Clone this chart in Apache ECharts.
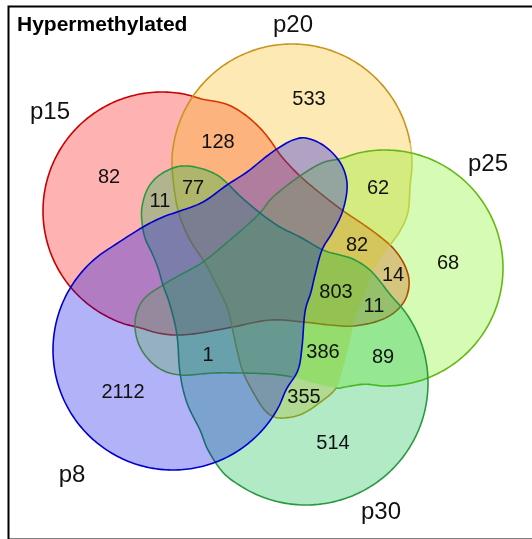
<!DOCTYPE html>
<html>
<head>
<meta charset="utf-8">
<script src="https://cdn.jsdelivr.net/npm/echarts@6/dist/echarts.min.js"></script>
<style>
  html, body { margin: 0; padding: 0; background: #ffffff; }
  #chart { width: 532px; height: 539px; }
</style>
</head>
<body>
<div id="chart"></div>
<script>
// ---- Sets and region counts --------------------------------------------
const setNames = ['p15', 'p20', 'p25', 'p30', 'p8'];

// Which sets each labelled region belongs to
const regionSets = [
  'p15', 'p20', 'p25', 'p30', 'p8',
  'p15&p20', 'p15&p20&p30', 'p15&p30', 'p20&p25', 'p15&p20&p25',
  'p15&p25', 'p15&p20&p25&p30', 'p15&p25&p30', 'p25&p30', 'p20&p25&p30',
  'p20&p30', 'p8&p25&p30'
];
const regionCounts = [
  82, 533, 68, 514, 2112,
  128, 77, 11, 62, 82,
  14, 803, 11, 89, 386,
  355, 1
];

// ---- Layout (diagram units = pixels of the 532 x 539 canvas) -------------
const setLabelAt = [[50, 112], [293, 25], [488, 164], [381, 512], [72, 475]];
const regionLabelAt = [
  [109, 177], [309, 99], [448, 263], [333, 443], [123, 392],
  [218, 142], [193, 188], [160, 201], [378, 188], [357, 245],
  [393, 275], [336, 292], [374, 306], [383, 357], [323, 352],
  [304, 397], [208, 355]
];

const setFill = ['#ff0000', '#f8b608', '#76f208', '#00b941', '#0000e8'];
const setStroke = ['#c80000', '#c8961e', '#66b814', '#2a9a40', '#0000cc'];
const fillAlpha = 0.3;

// Each set outline: a circular body (centre, radius, arc span in degrees,
// clockwise on screen) followed by a lobe reaching across the centre.
const setBody = [
  { c: [162, 211], r: 119, from: 100, to: 290 },
  { c: [292, 164], r: 120, from: 180, to: 370 },
  { c: [385, 268], r: 118, from: 248, to: 460 },
  { c: [306, 383], r: 122, from: -46, to: 133 },
  { c: [173, 350], r: 120, from: 19, to: 240 }
];
const setLobe = [
  [[226, 104], [244, 114], [259, 127], [270, 140], [282, 157], [300, 176], [320, 193],
   [342, 210], [367, 227], [390, 245], [403, 262], [409, 280], [406, 298], [395, 312],
   [378, 321], [353, 326], [330, 325], [303, 322], [270, 320], [233, 327], [200, 333],
   [177, 335], [158, 333]],
  [[408, 212], [400, 231], [390, 245], [378, 262], [368, 285], [360, 305], [354, 323],
   [349, 345], [343, 368], [336, 388], [322, 401], [302, 414], [283, 418], [272, 416],
   [263, 408], [253, 392], [243, 372], [237, 350], [232, 327], [227, 307], [214, 280],
   [205, 263], [190, 240], [180, 217], [175, 195]],
  [[345, 387], [336, 388], [310, 382], [292, 377], [270, 374], [240, 373], [213, 373],
   [180, 375], [157, 367], [140, 347], [135, 322], [143, 300], [163, 285], [180, 275],
   [203, 262], [230, 240], [258, 215], [273, 197], [300, 176], [322, 163]],
  [[208, 450], [200, 430], [187, 403], [180, 373], [177, 335], [170, 305], [163, 285],
   [158, 268], [152, 253], [145, 238], [142, 222], [142, 207], [147, 190], [157, 177],
   [173, 168], [187, 166], [203, 169], [217, 175], [227, 183], [240, 196], [260, 213],
   [280, 227], [300, 237], [323, 250], [340, 255], [355, 260], [372, 272]],
  [[143, 227], [163, 217], [180, 211], [203, 202], [227, 185], [247, 172], [267, 156],
   [280, 147], [293, 140], [306, 138], [323, 145], [337, 158], [345, 173], [347, 190],
   [342, 213], [332, 233], [322, 250], [315, 275], [311, 292], [305, 312], [302, 347],
   [298, 370]]
];

// Outline stretches drawn in another tone ([first segment, end segment, colour]);
// a null colour leaves that stretch without an outline.
const strokeTint = [
  [],
  [[17, 22, '#dcc25a'], [22, 29, null]],
  [[24, 26, null]],
  [],
  []
];

// ---- Geometry helpers ----------------------------------------------------
const STEPS = 8;

function outline(i) {
  const b = setBody[i];
  const pts = [];
  const n = Math.ceil((b.to - b.from) / 10);
  for (let k = 0; k <= n; k++) {
    const a = (b.from + (b.to - b.from) * k / n) * Math.PI / 180;
    pts.push([b.c[0] + b.r * Math.cos(a), b.c[1] + b.r * Math.sin(a)]);
  }
  return pts.concat(setLobe[i]);
}

// Closed Catmull-Rom curve through the outline points
function smoothClosed(pts, steps) {
  const out = [];
  const n = pts.length;
  for (let i = 0; i < n; i++) {
    const p0 = pts[(i - 1 + n) % n], p1 = pts[i], p2 = pts[(i + 1) % n], p3 = pts[(i + 2) % n];
    for (let s = 0; s < steps; s++) {
      const t = s / steps, t2 = t * t, t3 = t2 * t;
      const f = (a, b, c, d) => 0.5 * (2 * b + (-a + c) * t + (2 * a - 5 * b + 4 * c - d) * t2 + (-a + 3 * b - 3 * c + d) * t3);
      out.push([f(p0[0], p1[0], p2[0], p3[0]), f(p0[1], p1[1], p2[1], p3[1])]);
    }
  }
  return out;
}

// Split the sampled outline into stroke runs of one colour each
function strokeRuns(samples, nSeg, base, tints) {
  const segColor = [];
  for (let s = 0; s < nSeg; s++) segColor.push(base);
  tints.forEach(([a, b, c]) => { for (let s = a; s < b; s++) segColor[s] = c; });
  const runs = [];
  let s = 0;
  while (s < nSeg) {
    const c = segColor[s];
    let e = s;
    while (e < nSeg && segColor[e] === c) e++;
    if (c) {
      const pts = [];
      for (let k = s * STEPS; k <= e * STEPS; k++) pts.push(samples[k % samples.length]);
      runs.push({ color: c, pts: pts });
    }
    s = e;
  }
  return runs;
}

function rgba(hex, a) {
  const v = parseInt(hex.slice(1), 16);
  return 'rgba(' + ((v >> 16) & 255) + ',' + ((v >> 8) & 255) + ',' + (v & 255) + ',' + a + ')';
}

const font = '"Liberation Sans", Arial, Helvetica, sans-serif';

// ---- Chart ---------------------------------------------------------------
const chart = echarts.init(document.getElementById('chart'), null, { renderer: 'canvas' });

chart.setOption({
  animation: false,
  backgroundColor: '#ffffff',
  title: {
    text: 'Hypermethylated',
    left: 12,
    top: 10,
    textStyle: { fontFamily: font, fontSize: 21, fontWeight: 'bold', color: '#000' }
  },
  grid: { left: 0, right: 0, top: 0, bottom: 0 },
  xAxis: { type: 'value', min: 0, max: 532, show: false },
  yAxis: { type: 'value', min: 0, max: 539, inverse: true, show: false },
  graphic: [{
    type: 'rect',
    left: 6, top: 4,
    shape: { width: 545, height: 533 },
    style: { fill: 'none', stroke: '#000', lineWidth: 2 },
    z: 100
  }],
  series: [
    {
      // the five set shapes, each filled translucently, then outlined
      type: 'custom',
      name: 'sets',
      coordinateSystem: 'cartesian2d',
      clip: false,
      silent: true,
      data: setNames.map((n, i) => [i, i]),
      renderItem: function (params, api) {
        const i = params.dataIndex;
        const ctrl = outline(i);
        const samples = smoothClosed(ctrl, STEPS).map(p => api.coord(p));
        const children = [{
          type: 'polygon',
          z2: i * 2,
          shape: { points: samples },
          style: { fill: rgba(setFill[i], fillAlpha), stroke: null }
        }];
        strokeRuns(samples, ctrl.length, setStroke[i], strokeTint[i]).forEach(run => {
          children.push({
            type: 'polyline',
            z2: i * 2 + 1,
            shape: { points: run.pts },
            style: { fill: null, stroke: run.color, lineWidth: 1.6 }
          });
        });
        return { type: 'group', children: children };
      },
      z: 2
    },
    {
      // region counts
      type: 'custom',
      name: 'counts',
      coordinateSystem: 'cartesian2d',
      clip: false,
      silent: true,
      data: regionLabelAt.map((p, k) => [p[0], p[1], regionCounts[k]]),
      renderItem: function (params, api) {
        const pt = api.coord([api.value(0), api.value(1)]);
        return {
          type: 'text',
          x: pt[0], y: pt[1],
          style: {
            text: String(api.value(2)),
            fill: '#111',
            font: '20px ' + font,
            align: 'center',
            verticalAlign: 'middle'
          }
        };
      },
      z: 5
    },
    {
      // set names
      type: 'custom',
      name: 'setNames',
      coordinateSystem: 'cartesian2d',
      clip: false,
      silent: true,
      data: setLabelAt.map((p, k) => [p[0], p[1], k]),
      renderItem: function (params, api) {
        const pt = api.coord([api.value(0), api.value(1)]);
        return {
          type: 'text',
          x: pt[0], y: pt[1],
          style: {
            text: setNames[api.value(2)],
            fill: '#111',
            font: '24px ' + font,
            align: 'center',
            verticalAlign: 'middle'
          }
        };
      },
      z: 5
    }
  ]
});
</script>
</body>
</html>
